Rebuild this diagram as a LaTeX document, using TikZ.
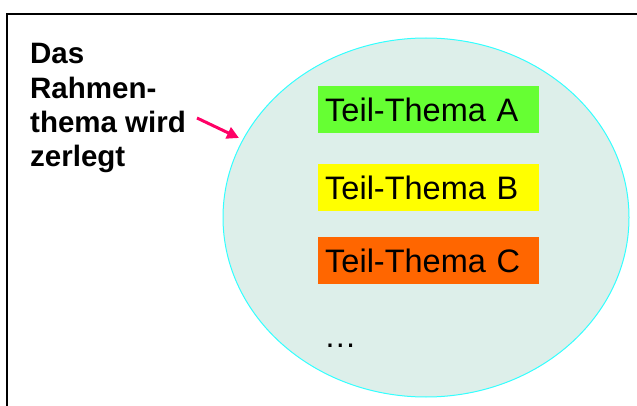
\documentclass[tikz,border=0pt]{standalone}
\usepackage{fontspec}
\setmainfont{Liberation Sans}
\usetikzlibrary{shapes.geometric,arrows.meta}
\definecolor{ellfill}{HTML}{DDEFEA}
\definecolor{ellline}{HTML}{33FFFF}
\definecolor{tgreen}{HTML}{66FF33}
\definecolor{tyellow}{HTML}{FFFF00}
\definecolor{torange}{HTML}{FF6600}
\definecolor{arrpink}{HTML}{FF0066}
\tikzset{
  topicbox/.style={anchor=north west, minimum height=47pt, inner xsep=7pt, inner ysep=0pt,
    text width=207pt, align=left, font=\fontsize{32.5}{36}\selectfont},
  framel/.style={line width=2pt, black},
}
\begin{document}
\begin{tikzpicture}[x=1pt,y=-1pt]
\useasboundingbox (0,0) rectangle (637,406);
\draw[framel] (7,406) -- (7,14.5) -- (637,14.5);
\node[ellipse, draw=ellline, fill=ellfill, line width=1pt, minimum width=406pt, minimum height=359pt, inner sep=0pt] (ell) at (426,217.5) {};
\node[topicbox, fill=tgreen] (ta) at (318,86) {Teil-Thema A};
\node[topicbox, fill=tyellow] (tb) at (318,164) {Teil-Thema B};
\node[topicbox, fill=torange] (tc) at (318,237) {Teil-Thema C};
\node[anchor=base west, inner sep=0pt, font=\fontsize{32.5}{36}\selectfont] (dots) at (324,347) {\dots};
\node[anchor=north west, inner sep=0pt, align=left, font=\bfseries\fontsize{29.5}{34.3}\selectfont] (lbl) at (30,43.5) {Das\\Rahmen-\\thema wird\\zerlegt};
\coordinate (arrS) at (197,118);
\coordinate (arrE) at (239,138);
\draw[arrpink, line width=3pt, -{Triangle[length=12pt,width=12pt]}] (arrS) -- (arrE);
\end{tikzpicture}
\end{document}
